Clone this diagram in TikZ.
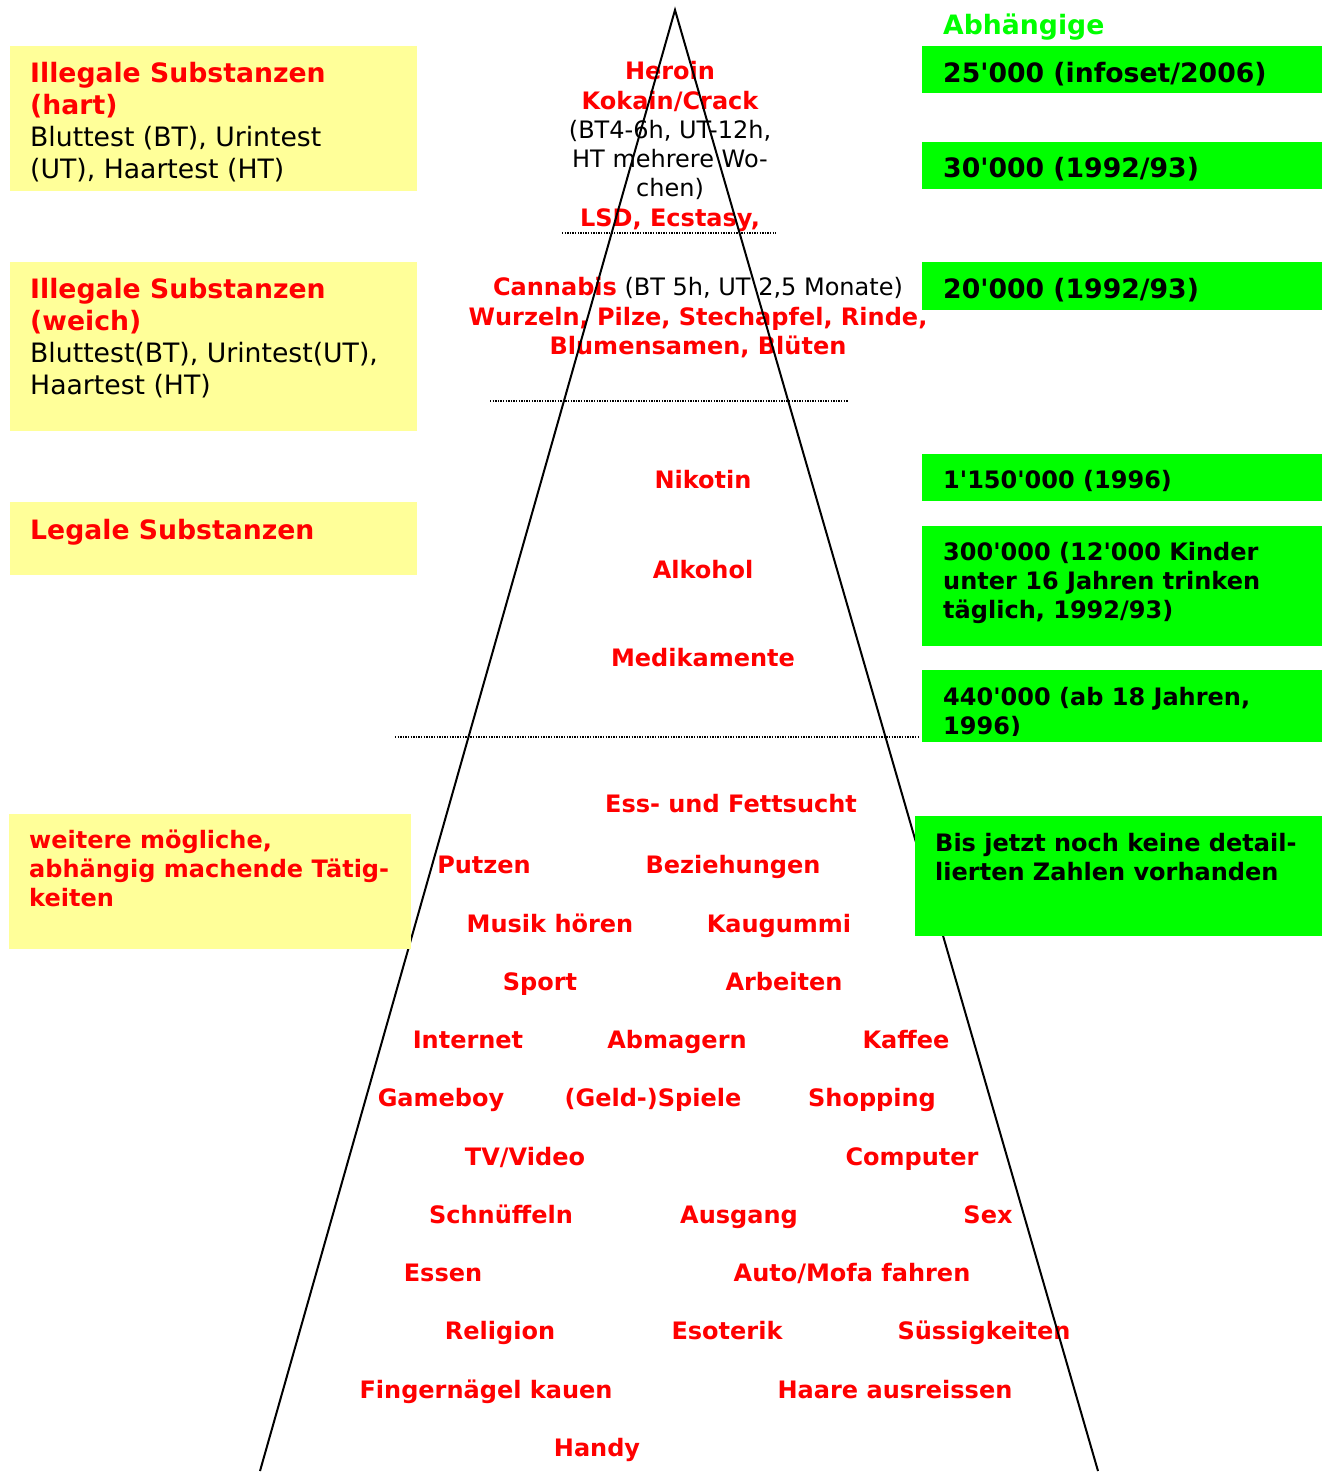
\documentclass[tikz,border=0pt]{standalone}
\usepackage{fontspec}
\setmainfont{DejaVu Sans}[Ligatures=TeXOff]
\definecolor{boxyellow}{HTML}{FFFF99}
\definecolor{boxgreen}{HTML}{00FF00}
\definecolor{txtred}{HTML}{FF0000}
\begin{document}
\begin{tikzpicture}[x=1pt,y=-1pt,
  bigf/.style={font=\fontsize{26.67}{32.4}\selectfont},
  midf/.style={font=\fontsize{24}{29.2}\selectfont},
  ybox/.style={fill=boxyellow, draw=none, inner sep=0pt, anchor=north west},
  gbox/.style={fill=boxgreen, draw=none, inner sep=0pt, anchor=north west},
  boxtxt/.style={anchor=base west, inner sep=0pt},
  redbig/.style={boxtxt, text=txtred, font=\fontsize{26.67}{32.4}\selectfont\bfseries},
  blackbig/.style={boxtxt, text=black, font=\fontsize{26.67}{32.4}\selectfont},
  redmid/.style={boxtxt, text=txtred, font=\fontsize{24}{29.2}\selectfont\bfseries},
  numbig/.style={boxtxt, text=black, font=\fontsize{26.67}{32.4}\selectfont\bfseries},
  nummid/.style={boxtxt, text=black, font=\fontsize{24}{29.2}\selectfont\bfseries},
  lbl/.style={anchor=base, inner sep=0pt, text=txtred, font=\fontsize{24}{29.2}\selectfont\bfseries},
  plain/.style={anchor=base, inner sep=0pt, text=black, font=\fontsize{24}{29.2}\selectfont},
  sepline/.style={black, line width=1.3pt, dash pattern=on 1.3pt off 1.3pt},
  tri/.style={black, line width=2pt, line join=miter}
]
\useasboundingbox (0,0) rectangle (1322,1479);
\fill[white] (0,0) rectangle (1322,1479);

% ---- texts inside the pyramid ----
\node[lbl] (heroin) at (670,80) {Heroin};
\node[lbl] (kokain) at (670,110) {Kokain/Crack};
\node[plain] (bt1) at (670,139) {(BT4-6h, UT-12h,};
\node[plain] (bt2) at (670,168) {HT mehrere Wo-};
\node[plain] (bt3) at (670,197) {chen)};
\node[lbl] (lsd) at (670,226) {LSD, Ecstasy,};

\node[plain] (cannabis) at (698,295) {{\color{txtred}\bfseries Cannabis} (BT 5h, UT 2,5 Monate)};
\node[lbl] (wurzeln) at (698,325) {Wurzeln, Pilze, Stechapfel, Rinde,};
\node[lbl] (blumen) at (698,354) {Blumensamen, Blüten};

\node[lbl] (nikotin) at (703,488) {Nikotin};
\node[lbl] (alkohol) at (703,578) {Alkohol};
\node[lbl] (medi) at (703,666) {Medikamente};

\node[lbl] (ess) at (731,812) {Ess- und Fettsucht};
\node[lbl] (putzen) at (484,873) {Putzen};
\node[lbl] (bez) at (733,873) {Beziehungen};
\node[lbl] (musik) at (550,932) {Musik hören};
\node[lbl] (kau) at (779,932) {Kaugummi};
\node[lbl] (sport) at (540,990) {Sport};
\node[lbl] (arbeit) at (784,990) {Arbeiten};
\node[lbl] (internet) at (468,1048) {Internet};
\node[lbl] (abmagern) at (677,1048) {Abmagern};
\node[lbl] (kaffee) at (906,1048) {Kaffee};
\node[lbl] (gameboy) at (441,1106) {Gameboy};
\node[lbl] (spiele) at (653,1106) {(Geld-)Spiele};
\node[lbl] (shopping) at (872,1106) {Shopping};
\node[lbl] (tv) at (525,1165) {TV/Video};
\node[lbl] (computer) at (912,1165) {Computer};
\node[lbl] (schnueff) at (501,1223) {Schnüffeln};
\node[lbl] (ausgang) at (739,1223) {Ausgang};
\node[lbl] (sex) at (988,1223) {Sex};
\node[lbl] (essen) at (443,1281) {Essen};
\node[lbl] (auto) at (852,1281) {Auto/Mofa fahren};
\node[lbl] (religion) at (500,1339) {Religion};
\node[lbl] (esoterik) at (727,1339) {Esoterik};
\node[lbl] (suess) at (984,1339) {Süssigkeiten};
\node[lbl] (finger) at (486,1398) {Fingernägel kauen};
\node[lbl] (haare) at (895,1398) {Haare ausreissen};
\node[lbl] (handy) at (597,1456) {Handy};

% ---- pyramid ----
\coordinate (apex) at (675,10);
\coordinate (bl) at (260,1471);
\coordinate (br) at (1098,1471);
\draw[tri] (bl) -- (apex) -- (br);

% ---- dotted separators ----
\coordinate (d1a) at (562,233); \coordinate (d1b) at (776,233);
\coordinate (d2a) at (490,401); \coordinate (d2b) at (848,401);
\coordinate (d3a) at (395,737); \coordinate (d3b) at (920,737);
\draw[sepline] (d1a) -- (d1b);
\draw[sepline] (d2a) -- (d2b);
\draw[sepline] (d3a) -- (d3b);

% ---- yellow boxes ----
\node[ybox, minimum width=407, minimum height=145] (y1) at (10,46) {};
\node[redbig] (y1a) at (30,83) {Illegale Substanzen};
\node[redbig] (y1b) at (30,115) {(hart)};
\node[blackbig] (y1c) at (30,147) {Bluttest (BT), Urintest};
\node[blackbig] (y1d) at (30,179) {(UT), Haartest (HT)};

\node[ybox, minimum width=407, minimum height=169] (y2) at (10,262) {};
\node[redbig] (y2a) at (30,298) {Illegale Substanzen};
\node[redbig] (y2b) at (30,330) {(weich)};
\node[blackbig] (y2c) at (30,362) {Bluttest(BT), Urintest(UT),};
\node[blackbig] (y2d) at (30,394) {Haartest (HT)};

\node[ybox, minimum width=407, minimum height=73] (y3) at (10,502) {};
\node[redbig] (y3a) at (30,539) {Legale Substanzen};

\node[ybox, minimum width=402, minimum height=135] (y4) at (9,814) {};
\node[redmid] (y4a) at (29,848) {weitere mögliche,};
\node[redmid] (y4b) at (29,877) {abhängig machende Tätig-};
\node[redmid] (y4c) at (29,906) {keiten};

% ---- green boxes ----
\node[boxtxt, text=boxgreen, font=\fontsize{26.67}{32.4}\selectfont\bfseries] (abh) at (943,35) {Abhängige};

\node[gbox, minimum width=400, minimum height=47] (g1) at (922,46) {};
\node[numbig] (g1a) at (943,83) {25'000 (infoset/2006)};

\node[gbox, minimum width=400, minimum height=47] (g2) at (922,142) {};
\node[numbig] (g2a) at (943,178) {30'000 (1992/93)};

\node[gbox, minimum width=400, minimum height=48] (g3) at (922,262) {};
\node[numbig] (g3a) at (943,298) {20'000 (1992/93)};

\node[gbox, minimum width=400, minimum height=47] (g4) at (922,454) {};
\node[nummid] (g4a) at (943,488) {1'150'000 (1996)};

\node[gbox, minimum width=400, minimum height=120] (g5) at (922,526) {};
\node[nummid] (g5a) at (943,560) {300'000 (12'000 Kinder};
\node[nummid] (g5b) at (943,589) {unter 16 Jahren trinken};
\node[nummid] (g5c) at (943,618) {täglich, 1992/93)};

\node[gbox, minimum width=400, minimum height=72] (g6) at (922,670) {};
\begin{scope}
\clip (922,670) rectangle (1322,735);
\node[nummid] (g6a) at (943,705) {440'000 (ab 18 Jahren,};
\node[nummid] (g6b) at (943,734) {1996)};
\end{scope}

\node[gbox, minimum width=407, minimum height=120] (g7) at (915,816) {};
\node[nummid] (g7a) at (935,851) {Bis jetzt noch keine detail-};
\node[nummid] (g7b) at (935,880) {lierten Zahlen vorhanden};
\end{tikzpicture}
\end{document}
